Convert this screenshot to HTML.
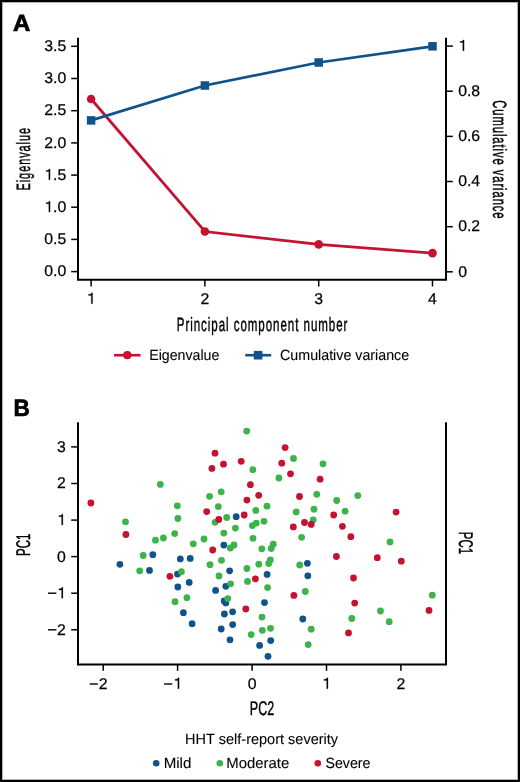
<!DOCTYPE html>
<html><head><meta charset="utf-8"><style>
html,body{margin:0;padding:0;background:#fff;}
body{width:520px;height:782px;overflow:hidden;position:relative;}
.frame{position:absolute;left:0;top:0;width:516px;height:778px;border:2px solid #000;background:#fff;box-shadow:inset 0 0 0 1px rgba(0,0,0,0.3);}
svg{position:absolute;left:0;top:0;will-change:transform;}
text{font-family:"Liberation Sans",sans-serif;fill:#000;stroke:#000;stroke-width:0.25px;}
.t{stroke:#000;stroke-width:0.45px;}
.l{stroke-width:0.1px;}
.one{fill:#000;stroke:#000;stroke-width:16px;}
.big{stroke-width:0.7px;}
</style></head><body>
<div class="frame"></div>
<svg width="520" height="782" viewBox="0 0 520 782" text-rendering="geometricPrecision">
<text transform="translate(12.9 31.1) scale(1.03 1)" font-size="23.3" font-weight="bold" class="big">A</text>
<path d="M78 37.7 V280.8 M77 279.8 H447 M446 280.8 V37.7" fill="none" stroke="#000" stroke-width="2"/>
<path d="M71.2 46.3 H78" stroke="#000" stroke-width="1.5"/>
<text x="44.22" y="51.10" font-size="15.5" textLength="21.98" lengthAdjust="spacingAndGlyphs">3.5</text>
<path d="M71.2 78.5 H78" stroke="#000" stroke-width="1.5"/>
<text x="44.22" y="83.29" font-size="15.5" textLength="21.98" lengthAdjust="spacingAndGlyphs">3.0</text>
<path d="M71.2 110.7 H78" stroke="#000" stroke-width="1.5"/>
<text x="44.22" y="115.48" font-size="15.5" textLength="21.98" lengthAdjust="spacingAndGlyphs">2.5</text>
<path d="M71.2 142.9 H78" stroke="#000" stroke-width="1.5"/>
<text x="44.22" y="147.67" font-size="15.5" textLength="21.98" lengthAdjust="spacingAndGlyphs">2.0</text>
<path d="M71.2 175.1 H78" stroke="#000" stroke-width="1.5"/>
<text x="44.22" y="179.86" font-size="15.5" textLength="21.98" lengthAdjust="spacingAndGlyphs"> .5</text><path class="one" transform="translate(44.22 179.86) scale(0.01581 -0.01550)" d="M290 0H372V703H308C298 652 262 622 196 614L116 606V534H290Z"/>
<path d="M71.2 207.2 H78" stroke="#000" stroke-width="1.5"/>
<text x="44.22" y="212.05" font-size="15.5" textLength="21.98" lengthAdjust="spacingAndGlyphs"> .0</text><path class="one" transform="translate(44.22 212.05) scale(0.01581 -0.01550)" d="M290 0H372V703H308C298 652 262 622 196 614L116 606V534H290Z"/>
<path d="M71.2 239.4 H78" stroke="#000" stroke-width="1.5"/>
<text x="44.22" y="244.24" font-size="15.5" textLength="21.98" lengthAdjust="spacingAndGlyphs">0.5</text>
<path d="M71.2 271.6 H78" stroke="#000" stroke-width="1.5"/>
<text x="44.22" y="276.43" font-size="15.5" textLength="21.98" lengthAdjust="spacingAndGlyphs">0.0</text>
<path d="M446 46.1 H452.8" stroke="#000" stroke-width="1.5"/>
<text x="458.20" y="50.80" font-size="15.5" textLength="8.79" lengthAdjust="spacingAndGlyphs"> </text><path class="one" transform="translate(458.20 50.80) scale(0.01581 -0.01550)" d="M290 0H372V703H308C298 652 262 622 196 614L116 606V534H290Z"/>
<path d="M446 91.2 H452.8" stroke="#000" stroke-width="1.5"/>
<text x="458.20" y="95.94" font-size="15.5" textLength="21.98" lengthAdjust="spacingAndGlyphs">0.8</text>
<path d="M446 136.4 H452.8" stroke="#000" stroke-width="1.5"/>
<text x="458.20" y="141.08" font-size="15.5" textLength="21.98" lengthAdjust="spacingAndGlyphs">0.6</text>
<path d="M446 181.5 H452.8" stroke="#000" stroke-width="1.5"/>
<text x="458.20" y="186.22" font-size="15.5" textLength="21.98" lengthAdjust="spacingAndGlyphs">0.4</text>
<path d="M446 226.7 H452.8" stroke="#000" stroke-width="1.5"/>
<text x="458.20" y="231.36" font-size="15.5" textLength="21.98" lengthAdjust="spacingAndGlyphs">0.2</text>
<path d="M446 271.8 H452.8" stroke="#000" stroke-width="1.5"/>
<text x="458.20" y="276.50" font-size="15.5" textLength="8.79" lengthAdjust="spacingAndGlyphs">0</text>
<path d="M91.1 280 V286.5" stroke="#000" stroke-width="1.5"/>
<text x="86.70" y="303.70" font-size="15.5" textLength="8.79" lengthAdjust="spacingAndGlyphs"> </text><path class="one" transform="translate(86.70 303.70) scale(0.01581 -0.01550)" d="M290 0H372V703H308C298 652 262 622 196 614L116 606V534H290Z"/>
<path d="M204.9 280 V286.5" stroke="#000" stroke-width="1.5"/>
<text x="200.50" y="303.70" font-size="15.5" textLength="8.79" lengthAdjust="spacingAndGlyphs">2</text>
<path d="M318.7 280 V286.5" stroke="#000" stroke-width="1.5"/>
<text x="314.30" y="303.70" font-size="15.5" textLength="8.79" lengthAdjust="spacingAndGlyphs">3</text>
<path d="M432.5 280 V286.5" stroke="#000" stroke-width="1.5"/>
<text x="428.10" y="303.70" font-size="15.5" textLength="8.79" lengthAdjust="spacingAndGlyphs">4</text>
<text class="t" transform="translate(176.75 331.00) scale(0.6011 1)" x="0" y="0" font-size="19.2" textLength="283.87" lengthAdjust="spacing">Principal component number</text>
<text class="t" transform="translate(29.60 189.60) rotate(-90) translate(-0.90 0) scale(0.5685 1)" x="0" y="0" font-size="19.2" textLength="110.08" lengthAdjust="spacing">Eigenvalue</text>
<text class="t" transform="translate(492.80 100.80) rotate(90) translate(-0.57 0) scale(0.5861 1)" x="0" y="0" font-size="19.2" textLength="201.96" lengthAdjust="spacing">Cumulative variance</text>
<polyline points="91.1,99.0 204.9,231.5 318.7,244.4 432.5,253.1" fill="none" stroke="#c41230" stroke-width="2.7"/>
<polyline points="91.1,120.4 204.9,85.5 318.7,62.5 432.5,46.3" fill="none" stroke="#10538a" stroke-width="2.7"/>
<rect x="86.85" y="116.15" width="8.5" height="8.5" fill="#10538a"/>
<rect x="200.65" y="81.25" width="8.5" height="8.5" fill="#10538a"/>
<rect x="314.45" y="58.25" width="8.5" height="8.5" fill="#10538a"/>
<rect x="428.25" y="42.05" width="8.5" height="8.5" fill="#10538a"/>
<circle cx="91.1" cy="99.0" r="4.3" fill="#c41230"/>
<circle cx="204.9" cy="231.5" r="4.3" fill="#c41230"/>
<circle cx="318.7" cy="244.4" r="4.3" fill="#c41230"/>
<circle cx="432.5" cy="253.1" r="4.3" fill="#c41230"/>
<path d="M114 355.2 H140.6" stroke="#c41230" stroke-width="2.6"/><circle cx="127.3" cy="355.2" r="4.1" fill="#c41230"/>
<text class="l" transform="translate(149.24 359.80) scale(0.9571 1)" x="0" y="0" font-size="14.8" textLength="73.23" lengthAdjust="spacing">Eigenvalue</text>
<path d="M245.2 355.2 H271.2" stroke="#10538a" stroke-width="2.6"/><rect x="253.8" y="350.9" width="8.6" height="8.6" fill="#10538a"/>
<text class="l" transform="translate(280.08 359.80) scale(0.9625 1)" x="0" y="0" font-size="14.8" textLength="134.08" lengthAdjust="spacing">Cumulative variance</text>
<text transform="translate(13.5 415.5) scale(0.95 1)" font-size="23.8" font-weight="bold" class="big">B</text>
<path d="M78 422.3 V665.6 M77 664.6 H447 M446 665.6 V422.3" fill="none" stroke="#000" stroke-width="2"/>
<path d="M71.2 446.9 H78" stroke="#000" stroke-width="1.5"/>
<text x="57.01" y="451.90" font-size="15.5" textLength="8.79" lengthAdjust="spacingAndGlyphs">3</text>
<path d="M71.2 483.5 H78" stroke="#000" stroke-width="1.5"/>
<text x="57.01" y="488.48" font-size="15.5" textLength="8.79" lengthAdjust="spacingAndGlyphs">2</text>
<path d="M71.2 520.1 H78" stroke="#000" stroke-width="1.5"/>
<text x="57.01" y="525.06" font-size="15.5" textLength="8.79" lengthAdjust="spacingAndGlyphs"> </text><path class="one" transform="translate(57.01 525.06) scale(0.01581 -0.01550)" d="M290 0H372V703H308C298 652 262 622 196 614L116 606V534H290Z"/>
<path d="M71.2 556.6 H78" stroke="#000" stroke-width="1.5"/>
<text x="57.01" y="561.64" font-size="15.5" textLength="8.79" lengthAdjust="spacingAndGlyphs">0</text>
<path d="M71.2 593.2 H78" stroke="#000" stroke-width="1.5"/>
<text x="57.01" y="598.22" font-size="15.5" textLength="8.79" lengthAdjust="spacingAndGlyphs"> </text><path class="one" transform="translate(57.01 598.22) scale(0.01581 -0.01550)" d="M290 0H372V703H308C298 652 262 622 196 614L116 606V534H290Z"/>
<path d="M48.0 593.2 H56.4" stroke="#000" stroke-width="1.4"/>
<path d="M71.2 629.8 H78" stroke="#000" stroke-width="1.5"/>
<text x="57.01" y="634.80" font-size="15.5" textLength="8.79" lengthAdjust="spacingAndGlyphs">2</text>
<path d="M48.0 629.8 H56.4" stroke="#000" stroke-width="1.4"/>
<path d="M103.2 665 V670.8" stroke="#000" stroke-width="1.5"/>
<text x="98.80" y="688.70" font-size="15.5" textLength="8.79" lengthAdjust="spacingAndGlyphs">2</text>
<path d="M89.7 684 H97.9" stroke="#000" stroke-width="1.4"/>
<path d="M177.6 665 V670.8" stroke="#000" stroke-width="1.5"/>
<text x="173.23" y="688.70" font-size="15.5" textLength="8.79" lengthAdjust="spacingAndGlyphs"> </text><path class="one" transform="translate(173.23 688.70) scale(0.01581 -0.01550)" d="M290 0H372V703H308C298 652 262 622 196 614L116 606V534H290Z"/>
<path d="M164.1 684 H172.3" stroke="#000" stroke-width="1.4"/>
<path d="M252.1 665 V670.8" stroke="#000" stroke-width="1.5"/>
<text x="247.66" y="688.70" font-size="15.5" textLength="8.79" lengthAdjust="spacingAndGlyphs">0</text>
<path d="M326.5 665 V670.8" stroke="#000" stroke-width="1.5"/>
<text x="322.09" y="688.70" font-size="15.5" textLength="8.79" lengthAdjust="spacingAndGlyphs"> </text><path class="one" transform="translate(322.09 688.70) scale(0.01581 -0.01550)" d="M290 0H372V703H308C298 652 262 622 196 614L116 606V534H290Z"/>
<path d="M400.9 665 V670.8" stroke="#000" stroke-width="1.5"/>
<text x="396.52" y="688.70" font-size="15.5" textLength="8.79" lengthAdjust="spacingAndGlyphs">2</text>
<text class="t" transform="translate(249.77 715.30) scale(0.6351 1)" x="0" y="0" font-size="19.8" textLength="38.52" lengthAdjust="spacing">PC2</text>
<text class="t" transform="translate(29.70 555.00) rotate(-90) translate(-0.94 0) scale(0.5817 1)" x="0" y="0" font-size="19.8" textLength="38.52" lengthAdjust="spacing">PC1</text>
<text class="t" transform="translate(458.80 532.70) rotate(90) translate(-0.94 0) scale(0.5790 1)" x="0" y="0" font-size="19.8" textLength="38.52" lengthAdjust="spacing">PC1</text>
<circle cx="152.8" cy="554.7" r="3.4" fill="#10538a"/>
<circle cx="119.9" cy="564.3" r="3.4" fill="#10538a"/>
<circle cx="149.5" cy="570.4" r="3.4" fill="#10538a"/>
<circle cx="180.3" cy="558.9" r="3.4" fill="#10538a"/>
<circle cx="190.2" cy="558.4" r="3.4" fill="#10538a"/>
<circle cx="177.5" cy="574.1" r="3.4" fill="#10538a"/>
<circle cx="177.8" cy="587" r="3.4" fill="#10538a"/>
<circle cx="236.2" cy="516.7" r="3.4" fill="#10538a"/>
<circle cx="223.8" cy="545.1" r="3.4" fill="#10538a"/>
<circle cx="229.6" cy="570.8" r="3.4" fill="#10538a"/>
<circle cx="267.1" cy="574.4" r="3.4" fill="#10538a"/>
<circle cx="189.2" cy="582.4" r="3.4" fill="#10538a"/>
<circle cx="225.8" cy="586.3" r="3.4" fill="#10538a"/>
<circle cx="215.6" cy="590.4" r="3.4" fill="#10538a"/>
<circle cx="307.4" cy="563.3" r="3.4" fill="#10538a"/>
<circle cx="307.8" cy="575.8" r="3.4" fill="#10538a"/>
<circle cx="224.2" cy="601" r="3.4" fill="#10538a"/>
<circle cx="225.8" cy="602.9" r="3.4" fill="#10538a"/>
<circle cx="264.5" cy="602.6" r="3.4" fill="#10538a"/>
<circle cx="183.4" cy="612.7" r="3.4" fill="#10538a"/>
<circle cx="232.6" cy="611.8" r="3.4" fill="#10538a"/>
<circle cx="224.4" cy="614" r="3.4" fill="#10538a"/>
<circle cx="192.1" cy="623.7" r="3.4" fill="#10538a"/>
<circle cx="232.7" cy="624.6" r="3.4" fill="#10538a"/>
<circle cx="221.2" cy="629" r="3.4" fill="#10538a"/>
<circle cx="230" cy="639.8" r="3.4" fill="#10538a"/>
<circle cx="259.6" cy="645.4" r="3.4" fill="#10538a"/>
<circle cx="270.7" cy="640.6" r="3.4" fill="#10538a"/>
<circle cx="268" cy="656.3" r="3.4" fill="#10538a"/>
<circle cx="302.8" cy="619" r="3.4" fill="#10538a"/>
<circle cx="160.3" cy="484.4" r="3.4" fill="#3cb44a"/>
<circle cx="177.3" cy="505.8" r="3.4" fill="#3cb44a"/>
<circle cx="177.9" cy="518.5" r="3.4" fill="#3cb44a"/>
<circle cx="125.5" cy="521.8" r="3.4" fill="#3cb44a"/>
<circle cx="174.7" cy="533.6" r="3.4" fill="#3cb44a"/>
<circle cx="163.4" cy="538" r="3.4" fill="#3cb44a"/>
<circle cx="155.5" cy="540.2" r="3.4" fill="#3cb44a"/>
<circle cx="143.2" cy="555.5" r="3.4" fill="#3cb44a"/>
<circle cx="139.7" cy="570.8" r="3.4" fill="#3cb44a"/>
<circle cx="246.7" cy="431.1" r="3.4" fill="#3cb44a"/>
<circle cx="252.9" cy="469.7" r="3.4" fill="#3cb44a"/>
<circle cx="221.2" cy="491.8" r="3.4" fill="#3cb44a"/>
<circle cx="209.6" cy="496.3" r="3.4" fill="#3cb44a"/>
<circle cx="218.3" cy="506.7" r="3.4" fill="#3cb44a"/>
<circle cx="267" cy="506.2" r="3.4" fill="#3cb44a"/>
<circle cx="293.5" cy="458.4" r="3.4" fill="#3cb44a"/>
<circle cx="323" cy="463.8" r="3.4" fill="#3cb44a"/>
<circle cx="278.9" cy="478" r="3.4" fill="#3cb44a"/>
<circle cx="316.8" cy="494.3" r="3.4" fill="#3cb44a"/>
<circle cx="336.7" cy="500.5" r="3.4" fill="#3cb44a"/>
<circle cx="357.8" cy="495.6" r="3.4" fill="#3cb44a"/>
<circle cx="314" cy="509.2" r="3.4" fill="#3cb44a"/>
<circle cx="255.8" cy="510.4" r="3.4" fill="#3cb44a"/>
<circle cx="226.7" cy="517.5" r="3.4" fill="#3cb44a"/>
<circle cx="215.1" cy="522.3" r="3.4" fill="#3cb44a"/>
<circle cx="252.4" cy="525.6" r="3.4" fill="#3cb44a"/>
<circle cx="256.3" cy="523.1" r="3.4" fill="#3cb44a"/>
<circle cx="264" cy="521.3" r="3.4" fill="#3cb44a"/>
<circle cx="235.4" cy="528.1" r="3.4" fill="#3cb44a"/>
<circle cx="223.8" cy="533.1" r="3.4" fill="#3cb44a"/>
<circle cx="204" cy="539" r="3.4" fill="#3cb44a"/>
<circle cx="253" cy="538.3" r="3.4" fill="#3cb44a"/>
<circle cx="193.3" cy="543.8" r="3.4" fill="#3cb44a"/>
<circle cx="234" cy="545" r="3.4" fill="#3cb44a"/>
<circle cx="230.3" cy="548" r="3.4" fill="#3cb44a"/>
<circle cx="261.8" cy="548.8" r="3.4" fill="#3cb44a"/>
<circle cx="221.5" cy="560.3" r="3.4" fill="#3cb44a"/>
<circle cx="210" cy="564.7" r="3.4" fill="#3cb44a"/>
<circle cx="258.8" cy="564.2" r="3.4" fill="#3cb44a"/>
<circle cx="246.9" cy="568.5" r="3.4" fill="#3cb44a"/>
<circle cx="181.4" cy="571.7" r="3.4" fill="#3cb44a"/>
<circle cx="219" cy="576" r="3.4" fill="#3cb44a"/>
<circle cx="247.5" cy="581.4" r="3.4" fill="#3cb44a"/>
<circle cx="230.6" cy="583.8" r="3.4" fill="#3cb44a"/>
<circle cx="267.6" cy="587.6" r="3.4" fill="#3cb44a"/>
<circle cx="296.2" cy="511.9" r="3.4" fill="#3cb44a"/>
<circle cx="345.1" cy="511.2" r="3.4" fill="#3cb44a"/>
<circle cx="313.2" cy="520" r="3.4" fill="#3cb44a"/>
<circle cx="301.6" cy="537.3" r="3.4" fill="#3cb44a"/>
<circle cx="273.3" cy="544.2" r="3.4" fill="#3cb44a"/>
<circle cx="271.2" cy="548.5" r="3.4" fill="#3cb44a"/>
<circle cx="270.3" cy="560" r="3.4" fill="#3cb44a"/>
<circle cx="268.7" cy="563.5" r="3.4" fill="#3cb44a"/>
<circle cx="299.7" cy="565" r="3.4" fill="#3cb44a"/>
<circle cx="390" cy="541.9" r="3.4" fill="#3cb44a"/>
<circle cx="175" cy="601.7" r="3.4" fill="#3cb44a"/>
<circle cx="186.9" cy="597.7" r="3.4" fill="#3cb44a"/>
<circle cx="227.8" cy="598.6" r="3.4" fill="#3cb44a"/>
<circle cx="262" cy="617.1" r="3.4" fill="#3cb44a"/>
<circle cx="262.3" cy="630.3" r="3.4" fill="#3cb44a"/>
<circle cx="270.5" cy="628.3" r="3.4" fill="#3cb44a"/>
<circle cx="251.2" cy="634.6" r="3.4" fill="#3cb44a"/>
<circle cx="305.3" cy="591.5" r="3.4" fill="#3cb44a"/>
<circle cx="351.8" cy="618.5" r="3.4" fill="#3cb44a"/>
<circle cx="311.2" cy="629.2" r="3.4" fill="#3cb44a"/>
<circle cx="308.2" cy="644.6" r="3.4" fill="#3cb44a"/>
<circle cx="432.3" cy="595.2" r="3.4" fill="#3cb44a"/>
<circle cx="380.5" cy="611" r="3.4" fill="#3cb44a"/>
<circle cx="389.2" cy="621.7" r="3.4" fill="#3cb44a"/>
<circle cx="90.9" cy="503" r="3.4" fill="#c41230"/>
<circle cx="125.9" cy="534.5" r="3.4" fill="#c41230"/>
<circle cx="169.9" cy="576.3" r="3.4" fill="#c41230"/>
<circle cx="215" cy="453.2" r="3.4" fill="#c41230"/>
<circle cx="223.5" cy="464.2" r="3.4" fill="#c41230"/>
<circle cx="211.9" cy="468.4" r="3.4" fill="#c41230"/>
<circle cx="241.2" cy="461.3" r="3.4" fill="#c41230"/>
<circle cx="250.4" cy="484.7" r="3.4" fill="#c41230"/>
<circle cx="258.7" cy="495.3" r="3.4" fill="#c41230"/>
<circle cx="246.9" cy="500.1" r="3.4" fill="#c41230"/>
<circle cx="285.1" cy="447.6" r="3.4" fill="#c41230"/>
<circle cx="281.8" cy="463.2" r="3.4" fill="#c41230"/>
<circle cx="290.5" cy="473.8" r="3.4" fill="#c41230"/>
<circle cx="320.1" cy="479.2" r="3.4" fill="#c41230"/>
<circle cx="299.5" cy="496.5" r="3.4" fill="#c41230"/>
<circle cx="206.7" cy="511.6" r="3.4" fill="#c41230"/>
<circle cx="244.2" cy="515" r="3.4" fill="#c41230"/>
<circle cx="218.8" cy="519.5" r="3.4" fill="#c41230"/>
<circle cx="212.7" cy="550" r="3.4" fill="#c41230"/>
<circle cx="255.4" cy="578.8" r="3.4" fill="#c41230"/>
<circle cx="333.7" cy="515" r="3.4" fill="#c41230"/>
<circle cx="304.5" cy="522.5" r="3.4" fill="#c41230"/>
<circle cx="311.2" cy="524.4" r="3.4" fill="#c41230"/>
<circle cx="293.3" cy="526.9" r="3.4" fill="#c41230"/>
<circle cx="342.4" cy="526.3" r="3.4" fill="#c41230"/>
<circle cx="350.8" cy="536.7" r="3.4" fill="#c41230"/>
<circle cx="336.4" cy="556.5" r="3.4" fill="#c41230"/>
<circle cx="353.5" cy="578" r="3.4" fill="#c41230"/>
<circle cx="396.1" cy="512.1" r="3.4" fill="#c41230"/>
<circle cx="377.3" cy="557.7" r="3.4" fill="#c41230"/>
<circle cx="401.3" cy="561.2" r="3.4" fill="#c41230"/>
<circle cx="245.8" cy="609" r="3.4" fill="#c41230"/>
<circle cx="293.9" cy="595.4" r="3.4" fill="#c41230"/>
<circle cx="354.7" cy="603.1" r="3.4" fill="#c41230"/>
<circle cx="348.5" cy="632.9" r="3.4" fill="#c41230"/>
<circle cx="429" cy="610.4" r="3.4" fill="#c41230"/>
<text class="l" transform="translate(185.11 743.90) scale(0.9793 1)" x="0" y="0" font-size="14.8" textLength="156.25" lengthAdjust="spacing">HHT self-report severity</text>
<circle cx="156.2" cy="763.2" r="3.3" fill="#10538a"/>
<text class="l" transform="translate(163.66 767.60) scale(1.0213 1)" x="0" y="0" font-size="14.8" textLength="27.14" lengthAdjust="spacing">Mild</text>
<circle cx="219.8" cy="763.2" r="3.3" fill="#3cb44a"/>
<text class="l" transform="translate(226.28 767.60) scale(1.0074 1)" x="0" y="0" font-size="14.8" textLength="62.52" lengthAdjust="spacing">Moderate</text>
<circle cx="317.8" cy="763.2" r="3.3" fill="#c41230"/>
<text class="l" transform="translate(325.45 767.60) scale(0.9613 1)" x="0" y="0" font-size="14.8" textLength="46.89" lengthAdjust="spacing">Severe</text>
</svg>
</body></html>
